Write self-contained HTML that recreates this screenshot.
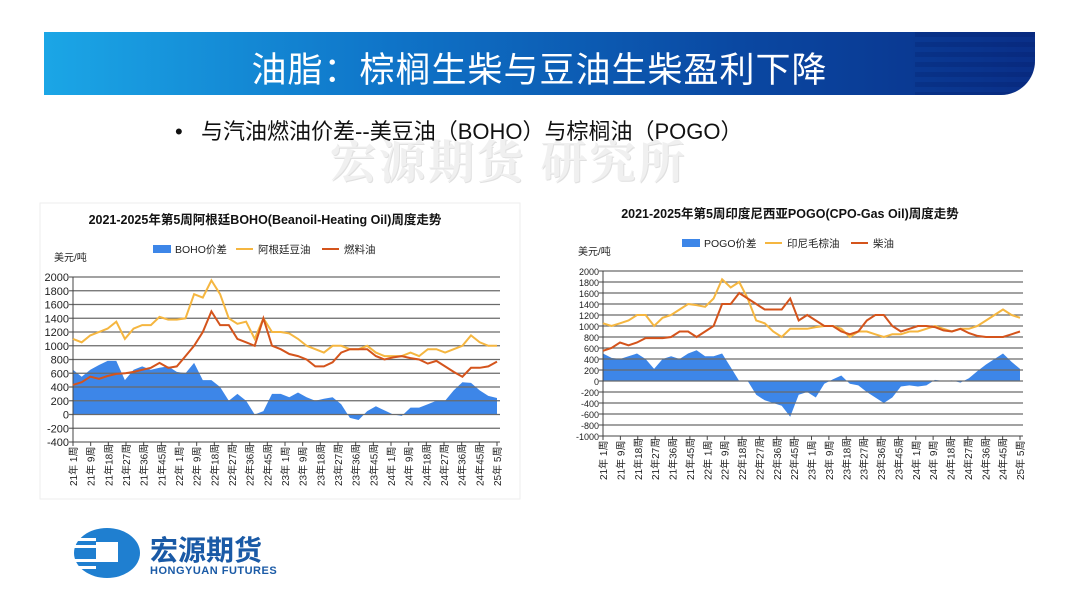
<!DOCTYPE html>
<html><head><meta charset="utf-8"><style>
body{margin:0;width:1080px;height:608px;background:#fff;overflow:hidden;position:relative;font-family:"Liberation Sans","Noto Sans CJK SC",sans-serif}
#hdr{position:absolute;left:44px;top:32px;width:991px;height:63px;background:linear-gradient(90deg,#1ba6e6 0%,#0f74c8 35%,#0a48a2 70%,#0a2f88 100%);border-bottom-right-radius:34px;overflow:hidden}
#hdr .st{position:absolute;right:0;top:0;width:120px;height:63px;background:repeating-linear-gradient(180deg,rgba(0,20,90,.2) 0 5px,rgba(255,255,255,0) 5px 10px)}
#ttl{position:absolute;left:0;width:991px;top:10px;text-align:center;color:#fff;font-size:35px;letter-spacing:1px;font-family:"Liberation Sans","Noto Sans CJK SC",sans-serif}
#bul{position:absolute;left:175px;top:114px;font-size:22px;color:#111}
#wm{position:absolute;left:330px;top:126px;font-size:46px;color:#f0f0f0;font-weight:bold;letter-spacing:3px;font-family:"Noto Serif CJK SC",serif;text-shadow:1px 1px 0 #e0e0e0}
#logo{position:absolute;left:74px;top:528px}
svg text{font-family:"Liberation Sans","Noto Sans CJK SC",sans-serif}
</style></head><body>
<div id="hdr"><div class="st"></div><div id="ttl">油脂：棕榈生柴与豆油生柴盈利下降</div></div>
<div id="wm">宏源期货 研究所</div>
<div id="bul">•&nbsp;&nbsp;&nbsp;与汽油燃油价差--美豆油（BOHO）与棕榈油（POGO）</div>
<div id="logo">
<svg width="240" height="52"><ellipse cx="33" cy="25" rx="33" ry="25" fill="#1f7fd0"/><rect x="0" y="10" width="22" height="3" fill="#fff"/><rect x="0" y="17" width="22" height="3" fill="#fff"/><rect x="0" y="31" width="22" height="3" fill="#fff"/><rect x="0" y="38" width="22" height="3" fill="#fff"/><rect x="22" y="14" width="22" height="20" fill="#fff"/>
<text x="76" y="32" font-size="28" font-weight="bold" fill="#1a5aa6">宏源期货</text>
<text x="76" y="46" font-size="11" font-weight="bold" fill="#1a5aa6" letter-spacing="0.5">HONGYUAN FUTURES</text></svg></div>
<svg id="ch" width="1080" height="608" style="position:absolute;left:0;top:0"></svg>
<script>
const xLabels=["21年 1周","21年 9周","21年18周","21年27周","21年36周","21年45周","22年 1周","22年 9周","22年18周","22年27周","22年36周","22年45周","23年 1周","23年 9周","23年18周","23年27周","23年36周","23年45周","24年 1周","24年 9周","24年18周","24年27周","24年36周","24年45周","25年 5周"];
const leftTicks=[2000,1800,1600,1400,1200,1000,800,600,400,200,0,-200,-400];
const rightTicks=[2000,1800,1600,1400,1200,1000,800,600,400,200,0,-200,-400,-600,-800,-1000];
const bohoSpread=[650,550,650,720,780,780,500,650,700,650,680,700,620,600,750,500,500,400,200,300,200,0,50,300,300,250,320,250,200,230,250,150,-50,-80,50,120,60,0,-20,100,100,150,200,200,350,470,460,350,270,240];
const argSoyOil=[1100,1050,1150,1200,1250,1350,1100,1250,1300,1300,1420,1380,1380,1400,1750,1700,1950,1750,1400,1320,1350,1100,1400,1200,1200,1180,1100,1000,950,900,1000,1000,950,950,1000,900,850,850,850,900,850,950,950,900,950,1000,1150,1050,1000,1000];
const fuelOil=[430,470,550,520,560,590,600,620,650,680,750,680,700,850,1000,1200,1500,1300,1300,1100,1050,1000,1400,1000,950,880,850,800,700,700,760,900,950,950,950,850,800,830,850,820,800,740,780,700,620,550,680,680,700,770];
const pogoSpread=[500,420,400,450,500,400,220,400,450,400,500,560,450,450,500,250,0,0,-250,-350,-400,-450,-650,-250,-200,-300,-50,30,100,-50,-80,-200,-300,-400,-300,-100,-80,-100,-80,20,0,10,-30,50,180,300,400,500,350,220];
const cpoPrice=[1050,1000,1050,1100,1200,1200,1000,1150,1200,1300,1400,1380,1350,1500,1850,1700,1800,1500,1100,1050,900,800,950,950,950,980,1000,1000,950,800,900,900,850,800,850,850,900,900,950,1000,950,900,950,950,1000,1100,1200,1300,1200,1150];
const gasOil=[550,600,700,650,700,780,780,780,800,900,900,800,900,1000,1400,1400,1600,1500,1400,1300,1300,1300,1500,1100,1200,1100,1000,1000,900,850,900,1100,1200,1200,1000,900,950,1000,1000,980,920,900,950,870,820,800,800,800,850,900];
const NS='http://www.w3.org/2000/svg';
const svg=document.getElementById('ch');
function mk(tag,attrs,parent){const e=document.createElementNS(NS,tag);for(const k in attrs)e.setAttribute(k,attrs[k]);(parent||svg).appendChild(e);return e;}
function chart(o){
  const g=mk('g',{});
  
  
  const ymin=o.ticks[o.ticks.length-1],ymax=o.ticks[0];
  const ys=v=>o.y0+(ymax-v)/(ymax-ymin)*(o.y1-o.y0);
  const n=o.spread.length;
  const xs=i=>o.x0+i*(o.x1-o.x0)/(n-1);
  const t=mk('text',{x:o.tx,y:o.ty,'font-size':o.tfs,'font-weight':'bold','text-anchor':'middle',fill:'#111'},g);t.textContent=o.title;
  
  
  const u=mk('text',{x:o.ux,y:o.uy,'font-size':10,fill:'#222'},g);u.textContent='美元/吨';
  
  
  let d='M'+xs(0)+','+ys(0);
  o.spread.forEach((v,i)=>{d+=' L'+xs(i).toFixed(1)+','+ys(v).toFixed(1);});
  d+=' L'+xs(n-1)+','+ys(0)+'Z';
  const a=mk('path',{d:d,fill:'#3d86e8'},g);
  
  
  o.ticks.forEach(v=>{
    mk('line',{x1:o.x0-4,x2:o.x1+3,y1:ys(v),y2:ys(v),stroke:'#6a6a6a','stroke-width':1.2},g);
    const tl=mk('text',{x:o.x0-4,y:ys(v)+4,'font-size':o.yfs,'text-anchor':'end',fill:'#222'},g);tl.textContent=v;
    
    
  });
  mk('line',{x1:o.x0,x2:o.x0,y1:o.y0,y2:o.y1+3,stroke:'#444'},g);
  [[o.s1,'#f5b640'],[o.s2,'#d4541c']].forEach((s,k)=>{
    let p='';s[0].forEach((v,i)=>{p+=(i?' L':'M')+xs(i).toFixed(1)+','+ys(v).toFixed(1);});
    const l=mk('path',{d:p,fill:'none',stroke:s[1],'stroke-width':2},g);
    
    
  });
  xLabels.forEach((lb,i)=>{
    const x=o.x0+i*(o.x1-o.x0)/(xLabels.length-1);
    mk('line',{x1:x,x2:x,y1:o.y1,y2:o.y1+4,stroke:'#444'},g);
    const tx=mk('text',{transform:'translate('+(x+4)+','+(o.y1+44)+') rotate(-90)','font-size':10,fill:'#222'},g);tx.textContent=lb;
    
    
  });
  const L=o.leg;
  const r=mk('rect',{x:L[0],y:L[3]-4,width:18,height:8,fill:'#3d86e8'},g);
  
  
  mk('line',{x1:L[1],x2:L[1]+17,y1:L[3],y2:L[3],stroke:'#f5b640','stroke-width':2},g);
  mk('line',{x1:L[2],x2:L[2]+17,y1:L[3],y2:L[3],stroke:'#d4541c','stroke-width':2},g);
  [[L[0]+22,o.ln[0]],[L[1]+22,o.ln[1]],[L[2]+22,o.ln[2]]].forEach(q=>{const e=mk('text',{x:q[0],y:L[3]+4,'font-size':10.5,fill:'#222'},g);e.textContent=q[1];
    
    });
}
mk('rect',{x:40,y:203,width:480,height:296,fill:'none',stroke:'#eee'});
chart({name:'boho-chart',title:'2021-2025年第5周阿根廷BOHO(Beanoil-Heating Oil)周度走势',tx:265,ty:224,tfs:12.5,ux:54,uy:261,
 ticks:leftTicks,x0:73,x1:497,y0:277,y1:442,yfs:11,spread:bohoSpread,s1:argSoyOil,s2:fuelOil,leg:[153,236,322,249],ln:['BOHO价差','阿根廷豆油','燃料油']});
chart({name:'pogo-chart',title:'2021-2025年第5周印度尼西亚POGO(CPO-Gas Oil)周度走势',tx:790,ty:218,tfs:12.5,ux:578,uy:255,
 ticks:rightTicks,x0:603,x1:1020,y0:271,y1:436,yfs:9,spread:pogoSpread,s1:cpoPrice,s2:gasOil,leg:[682,765,851,243],ln:['POGO价差','印尼毛棕油','柴油']});
</script>
</body></html>
